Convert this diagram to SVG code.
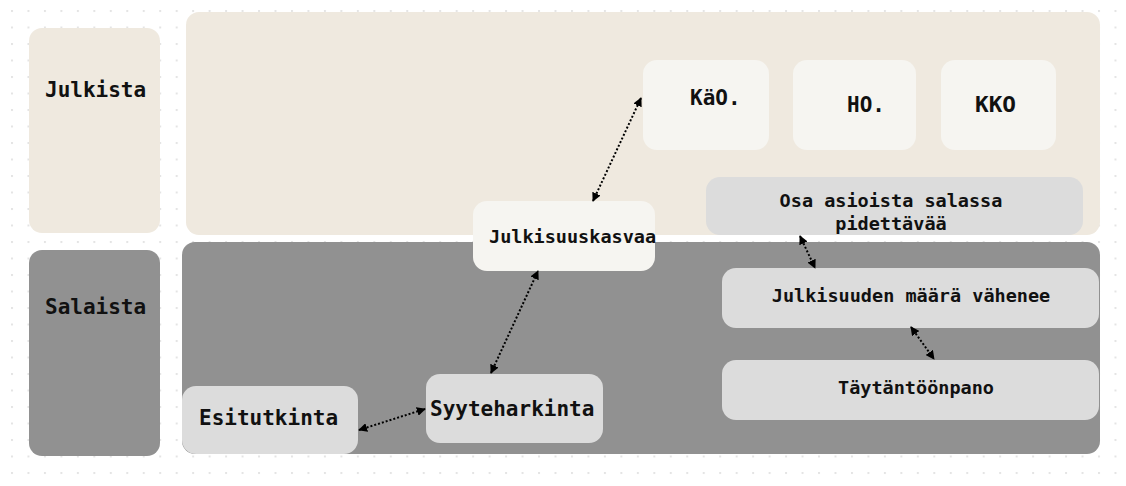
<svg xmlns="http://www.w3.org/2000/svg" width="1126" height="486" viewBox="0 0 1126 486">
  <defs>
    <pattern id="dots" x="11" y="10" width="16.47" height="16.5" patternUnits="userSpaceOnUse">
      <rect x="0" y="0" width="2" height="2" fill="#e4e4e4"/>
    </pattern>
    <marker id="tip" viewBox="0 0 10 10" refX="9" refY="5" markerWidth="9" markerHeight="9" markerUnits="userSpaceOnUse" orient="auto-start-reverse">
      <path d="M0,0 L10,5 L0,10 Z" fill="#000"/>
    </marker>
    <style>
      .lane-pub { fill: #efe9df; }
      .lane-sec { fill: #919191; }
      .node-light { fill: #f6f5f1; }
      .node-gray { fill: #dcdcdc; }
      text { font-family: "DejaVu Sans Mono", "Liberation Mono", monospace; font-weight: bold; fill: #111; }
      .big { font-size: 21px; }
      .small { font-size: 18.5px; }
      .link { fill: none; stroke: #000; stroke-width: 2; stroke-dasharray: 2 2; marker-start: url(#tip); marker-end: url(#tip); }
    </style>
  </defs>

  <rect width="1126" height="486" fill="#ffffff"/>
  <rect width="1126" height="486" fill="url(#dots)"/>

  <!-- lanes -->
  <g id="lane-julkista">
    <rect class="lane-pub" x="29" y="28" width="131" height="205" rx="13"/>
    <text class="big" x="45" y="97">Julkista</text>
  </g>
  <g id="lane-julkista-area">
    <rect class="lane-pub" x="186" y="12" width="914" height="223" rx="13"/>
  </g>
  <g id="lane-salaista">
    <rect class="lane-sec" x="29" y="250" width="131" height="206" rx="13"/>
    <text class="big" x="45" y="314">Salaista</text>
  </g>
  <g id="lane-salaista-area">
    <rect class="lane-sec" x="182" y="242" width="918" height="212" rx="13"/>
  </g>

  <!-- nodes -->
  <g id="node-kao">
    <rect class="node-light" x="643" y="60" width="126" height="90" rx="14"/>
    <text class="big" x="690" y="105">KäO.</text>
  </g>
  <g id="node-ho">
    <rect class="node-light" x="793" y="60" width="123" height="90" rx="14"/>
    <text class="big" x="847" y="112">HO.</text>
  </g>
  <g id="node-kko">
    <rect class="node-light" x="941" y="60" width="115" height="90" rx="14"/>
    <text class="big" x="975" y="112" textLength="41" lengthAdjust="spacingAndGlyphs">KKO</text>
  </g>
  <g id="node-osa">
    <rect class="node-gray" x="706" y="177" width="377" height="58" rx="14"/>
    <text class="small" x="891" y="207" text-anchor="middle">Osa asioista salassa</text>
    <text class="small" x="891" y="230" text-anchor="middle">pidettävää</text>
  </g>
  <g id="node-julkisuuskasvaa">
    <rect class="node-light" x="473" y="201" width="182" height="70" rx="14"/>
    <text class="small" x="489" y="243">Julkisuuskasvaa</text>
  </g>
  <g id="node-julkisuuden">
    <rect class="node-gray" x="722" y="268" width="377" height="60" rx="14"/>
    <text class="small" x="911" y="302" text-anchor="middle">Julkisuuden määrä vähenee</text>
  </g>
  <g id="node-taytantoonpano">
    <rect class="node-gray" x="722" y="360" width="377" height="60" rx="14"/>
    <text class="small" x="916" y="394" text-anchor="middle">Täytäntöönpano</text>
  </g>
  <g id="node-esitutkinta">
    <rect class="node-gray" x="182" y="386" width="176" height="68" rx="14"/>
    <text class="big" x="199" y="425">Esitutkinta</text>
  </g>
  <g id="node-syyteharkinta">
    <rect class="node-gray" x="426" y="374" width="177" height="69" rx="14"/>
    <text class="big" x="430" y="416">Syyteharkinta</text>
  </g>

  <!-- connectors -->
  <g id="connectors">
    <line class="link" x1="359" y1="430" x2="425" y2="409"/>
    <line class="link" x1="491" y1="373" x2="538" y2="271"/>
    <line class="link" x1="593" y1="201" x2="641" y2="98"/>
    <line class="link" x1="800" y1="236" x2="815" y2="268"/>
    <line class="link" x1="911" y1="327" x2="934" y2="359"/>
  </g>
</svg>
